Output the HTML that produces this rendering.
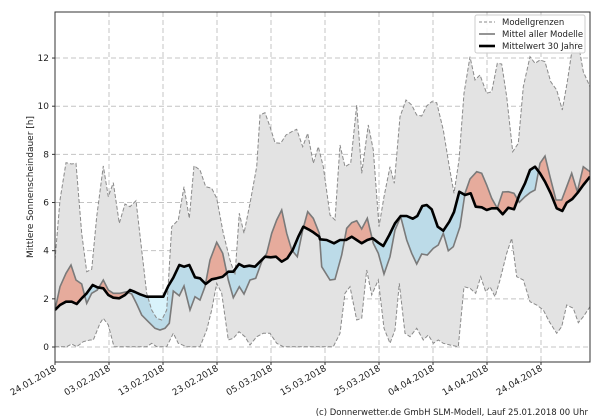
<!DOCTYPE html>
<html><head><meta charset="utf-8"><style>
html,body{margin:0;padding:0;background:#fff;width:600px;height:420px;overflow:hidden}
svg{display:block;font-family:"DejaVu Sans","Liberation Sans",sans-serif}
</style></head><body>
<svg id="s" width="600" height="420" viewBox="0 0 600 420" xmlns="http://www.w3.org/2000/svg">
<defs>
<clipPath id="plot"><rect x="55" y="12" width="535" height="350"/></clipPath>
<clipPath id="above"><polygon id="pa" points=""/></clipPath>
<clipPath id="below"><polygon id="pb" points=""/></clipPath>
</defs>
<g id="grid"></g>
<g clip-path="url(#plot)">
<polygon id="band" fill="#e3e3e3" stroke="none"/>
<polygon id="red" fill="#e6ab9c" fill-rule="evenodd" clip-path="url(#above)"/>
<polygon id="blue" fill="#bcdbe8" fill-rule="evenodd" clip-path="url(#below)"/>
<polygon id="cyan" fill="#d9f3fb" fill-rule="evenodd" clip-path="url(#below)"/>
<polyline id="up" fill="none" stroke="#8a8a8a" stroke-width="1" stroke-dasharray="4,2"/>
<polyline id="lo" fill="none" stroke="#8a8a8a" stroke-width="1" stroke-dasharray="4,2"/>
<polyline id="mm" fill="none" stroke="#7a7a7a" stroke-width="1.6"/>
<polyline id="cl" fill="none" stroke="#000" stroke-width="2.6" stroke-linejoin="round"/>
</g>
<rect x="55" y="12" width="535" height="350" fill="none" stroke="#333" stroke-width="1"/>
<g id="labels" font-size="9" fill="#222"></g>
<text x="33" y="187" font-size="9" fill="#222" text-anchor="middle" transform="rotate(-90 33 187)">Mittlere Sonnenscheindauer [h]</text>
<g>
<rect x="475" y="15" width="110" height="38" fill="#fff" fill-opacity="0.85" stroke="#ccc" rx="2"/>
<line x1="479" y1="22" x2="495" y2="22" stroke="#8a8a8a" stroke-dasharray="3,2"/>
<line x1="479" y1="34" x2="495" y2="34" stroke="#7a7a7a" stroke-width="1.6"/>
<line x1="479" y1="46" x2="495" y2="46" stroke="#000" stroke-width="2.6"/>
<text x="502" y="25" font-size="8.5" fill="#222">Modellgrenzen</text>
<text x="502" y="37" font-size="8.5" fill="#222">Mittel aller Modelle</text>
<text x="502" y="49" font-size="8.5" fill="#222">Mittelwert 30 Jahre</text>
</g>
<text x="588" y="415" font-size="8.5" fill="#222" text-anchor="end">(c) Donnerwetter.de GmbH SLM-Modell, Lauf 25.01.2018 00 Uhr</text>
</svg>
<script>
function g(a,b){return a.map(p=>[40+p[0]/3,p[1]/3]).concat(b.filter(p=>p[0]>=30).map(p=>[310+p[0]/3,p[1]/3]));}
var UP=g([[45,780],[60,600],[78,488],[95,492],[108,490],[125,700],[140,815],[155,808],[170,650],[190,498],[205,590],[220,548],[238,670],[255,612],[270,620],[288,602],[305,750],[320,880],[335,930],[350,955],[365,960],[380,930],[395,680],[415,660],[432,560],[448,655],[462,497],[480,510],[497,560],[515,565],[530,595],[550,700],[570,780],[585,825],[598,640],[612,700],[630,610],[650,500],[660,345],[675,338],[690,380],[705,428],[722,430],[738,405],[755,395],[770,388],[788,440],[803,400],[820,490],[835,440]],
[[0,420],[10,495],[25,440],[40,500],[60,645],[75,660],[90,435],[105,500],[122,490],[140,315],[155,520],[175,375],[190,450],[207,680],[222,590],[240,500],[253,550],[270,350],[288,300],[305,315],[320,345],[335,348],[350,318],[365,305],[380,308],[400,390],[418,500],[432,580],[447,480],[462,280],[480,170],[495,240],[510,225],[530,280],[545,275],[562,190],[575,192],[590,290],[608,455],[625,430],[640,260],[660,170],[675,190],[690,180],[705,185],[722,245],[740,270],[757,330],[772,245],[790,125],[805,130],[820,215],[840,260]]);
var LO=g([[45,1040],[80,1040],[95,1032],[110,1040],[130,1025],[150,1020],[160,1020],[180,970],[190,955],[205,975],[222,1040],[320,1040],[335,1030],[350,1040],[380,1040],[400,1000],[415,1030],[440,1040],[480,1040],[500,990],[515,930],[530,850],[545,880],[555,950],[565,1020],[580,1015],[597,995],[615,1010],[630,1035],[650,1010],[670,1000],[690,1000],[710,1030],[730,1040],[838,1040]],
[[0,1040],[70,1040],[90,1000],[105,880],[120,860],[140,960],[155,955],[170,810],[185,885],[205,840],[222,985],[240,1030],[255,990],[268,850],[285,1000],[300,1010],[320,985],[340,1020],[355,1005],[370,1030],[385,1020],[400,1030],[420,1035],[445,1040],[462,860],[480,865],[497,880],[512,830],[527,875],[540,860],[555,890],[570,840],[590,760],[605,715],[620,830],[640,840],[660,905],[680,915],[700,930],[718,965],[740,1000],[755,980],[770,915],[790,925],[805,968],[820,950],[840,920]]);
var MM=g([[45,930],[60,860],[78,820],[93,795],[108,840],[125,852],[140,910],[155,880],[172,870],[190,840],[205,870],[220,880],[240,880],[260,875],[275,882],[290,912],[305,945],[325,965],[345,985],[360,990],[375,985],[388,970],[400,873],[418,887],[432,858],[450,930],[465,890],[480,900],[495,860],[510,780],[530,727],[548,760],[565,840],[580,893],[598,860],[612,882],[630,840],[647,835],[665,785],[680,760],[695,700],[710,660],[725,630],[740,700],[755,750],[772,770],[788,690],[803,635],[820,655],[838,700]],
[[0,650],[15,695],[35,800],[60,840],[75,838],[95,765],[110,685],[125,668],[140,662],[155,687],[172,655],[190,730],[205,760],[222,822],[240,770],[255,690],[272,650],[290,720],[305,760],[320,792],[335,762],[352,765],[370,745],[385,735],[400,700],[415,752],[430,740],[450,680],[465,580],[480,537],[500,515],[515,520],[530,555],[545,595],[562,625],[578,576],[595,575],[612,580],[628,607],[645,590],[660,578],[675,570],[690,490],[705,468],[720,530],[738,600],[755,600],[770,560],[785,520],[802,575],[820,500],[840,515]]);
var CL=g([[45,930],[60,915],[78,905],[95,905],[110,912],[125,895],[140,880],[158,855],[172,862],[190,865],[205,885],[220,893],[238,895],[255,885],[270,870],[285,876],[300,883],[320,890],[340,890],[355,890],[370,890],[385,858],[400,833],[418,795],[432,800],[448,795],[465,832],[480,835],[497,852],[515,838],[530,835],[548,830],[565,815],[580,815],[597,792],[612,800],[628,797],[645,800],[660,785],[675,770],[692,772],[708,770],[725,785],[742,775],[758,750],[775,710],[790,680],[805,688],[820,697],[838,710]],
[[0,700],[15,712],[30,718],[50,720],[72,730],[90,720],[108,720],[125,710],[140,720],[155,730],[172,720],[188,715],[205,728],[220,738],[238,705],[255,670],[272,648],[290,648],[308,656],[322,648],[337,618],[350,615],[365,628],[383,680],[400,692],[418,665],[432,636],[448,575],[465,585],[482,580],[497,620],[515,622],[530,630],[545,625],[562,625],[578,643],[595,623],[612,628],[628,585],[645,550],[660,510],[675,500],[690,520],[705,545],[722,580],[740,625],[757,633],[770,608],[787,597],[803,578],[820,555],[840,530]]);
function s(a){return a.map(p=>p[0].toFixed(1)+","+p[1].toFixed(1)).join(" ");}
function $(i){return document.getElementById(i);}
$('up').setAttribute('points',s(UP));$('lo').setAttribute('points',s(LO));
$('mm').setAttribute('points',s(MM));$('cl').setAttribute('points',s(CL));
$('band').setAttribute('points',s(UP.concat(LO.slice().reverse())));
var between=s(MM.concat(CL.slice().reverse()));
$('red').setAttribute('points',between);$('blue').setAttribute('points',between);
$('cyan').setAttribute('points',s(UP.concat(CL.slice().reverse())));
$('pa').setAttribute('points',s([[0,0]].concat([[0,CL[0][1]]],CL,[[600,CL[CL.length-1][1]],[600,0]])));
$('pb').setAttribute('points',s([[0,420]].concat([[0,CL[0][1]]],CL,[[600,CL[CL.length-1][1]],[600,420]])));
var NS="http://www.w3.org/2000/svg",gr=$('grid'),lb=$('labels');
function el(p,t,a){var e=document.createElementNS(NS,t);for(var k in a)e.setAttribute(k,a[k]);p.appendChild(e);return e;}
for(var v=0;v<=12;v+=2){var y=347-24.08*v;
 el(gr,'line',{x1:55,x2:590,y1:y,y2:y,stroke:'#c4c4c4','stroke-dasharray':'5,3'});
 el(lb,'line',{x1:52,x2:55,y1:y,y2:y,stroke:'#333'});
 var t=el(lb,'text',{x:49,y:y+3,'text-anchor':'end'});t.textContent=v;}
var d=['24.01.2018','03.02.2018','13.02.2018','23.02.2018','05.03.2018','15.03.2018','25.03.2018','04.04.2018','14.04.2018','24.04.2018'];
for(var i=0;i<10;i++){var x=55+54*i;
 if(i>0)el(gr,'line',{x1:x,x2:x,y1:12,y2:362,stroke:'#c4c4c4','stroke-dasharray':'5,3'});
 el(lb,'line',{x1:x,x2:x,y1:362,y2:365,stroke:'#333'});
 var t=el(lb,'text',{x:x+2,y:370,'text-anchor':'end',transform:'rotate(-30 '+(x+2)+' 370)'});t.textContent=d[i];}
</script>
</body></html>
